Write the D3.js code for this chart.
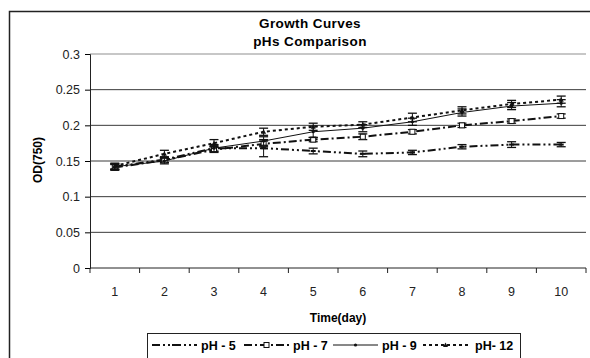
<!DOCTYPE html>
<html>
<head>
<meta charset="utf-8">
<script src="https://cdn.jsdelivr.net/npm/d3@7/dist/d3.min.js"></script>
<style>
  body { margin: 0; background: #fff; }
  svg { font-family: Arial, "Liberation Sans", sans-serif; }
</style>
</head>
<body>
<svg width="590" height="358"></svg>
<script>
const days = [1, 2, 3, 4, 5, 6, 7, 8, 9, 10];
const yTicks = [0, 0.05, 0.1, 0.15, 0.2, 0.25, 0.3];

const ph5 = [0.142, 0.152, 0.168, 0.168, 0.164, 0.160, 0.162, 0.170, 0.173, 0.173];
const ph7 = [0.141, 0.151, 0.166, 0.174, 0.180, 0.184, 0.191, 0.200, 0.206, 0.213];
const ph9 = [0.142, 0.150, 0.168, 0.178, 0.191, 0.196, 0.205, 0.218, 0.227, 0.231];
const ph12 = [0.143, 0.160, 0.175, 0.191, 0.198, 0.201, 0.211, 0.221, 0.230, 0.236];

const err5 = [0.004, 0.004, 0.004, 0.012, 0.004, 0.004, 0.003, 0.003, 0.004, 0.003];
const err7 = [0.004, 0.003, 0.004, 0.004, 0.003, 0.004, 0.003, 0.003, 0.003, 0.003];
const err9 = [0.004, 0.004, 0.005, 0.006, 0.008, 0.005, 0.005, 0.005, 0.005, 0.005];
const err12 = [0.004, 0.005, 0.005, 0.005, 0.005, 0.004, 0.006, 0.005, 0.005, 0.005];

const seriesNames = ['pH - 5', 'pH - 7', 'pH - 9', 'pH- 12'];

const series = [
  { name: seriesNames[0], values: ph5, errs: err5, dash: '8,3,2,3,2,3', width: 2, marker: 'dash' },
  { name: seriesNames[1], values: ph7, errs: err7, dash: '8,3,2,3', width: 2, marker: 'square' },
  { name: seriesNames[2], values: ph9, errs: err9, dash: null, width: 1, marker: 'dot' },
  { name: seriesNames[3], values: ph12, errs: err12, dash: '3,3', width: 2, marker: 'tri' }
];

const svg = d3.select('svg');

// outer chart frame (runs off the right/bottom edge)
svg.append('rect')
    .attr('x', 9.5).attr('y', 11.5)
    .attr('width', 620).attr('height', 400)
    .attr('fill', 'none').attr('stroke', '#222').attr('stroke-width', 1.5);

const x = d3.scaleLinear().domain([0.5, 10.5]).range([90, 586]);
const y = d3.scaleLinear().domain([0, 0.3]).range([268, 54]);

// gridlines
svg.append('g')
  .selectAll('line')
  .data(yTicks.filter(d => d > 0))
  .enter().append('line')
    .attr('x1', x(0.5)).attr('x2', x(10.5))
    .attr('y1', d => y(d)).attr('y2', d => y(d))
    .attr('stroke', d => d === 0.3 ? '#b4b4b4' : '#3a3a3a')
    .attr('stroke-width', d => d === 0.3 ? 1.5 : 1);

// y axis
const yAxis = svg.append('g')
    .attr('transform', `translate(${x(0.5)},0)`)
    .call(d3.axisLeft(y).tickValues(yTicks).tickSize(5).tickPadding(5)
      .tickFormat(d => d3.format('')(+d.toFixed(2))));
yAxis.select('.domain').attr('stroke', '#222');
yAxis.selectAll('text').attr('font-size', 12.5).attr('fill', '#222')
    .attr('font-family', 'Arial, "Liberation Sans", sans-serif');

// x axis: labels at categories, ticks at category boundaries
const xAxis = svg.append('g').attr('transform', `translate(0,${y(0)})`);
xAxis.append('line')
    .attr('x1', x(0.5)).attr('x2', x(10.5))
    .attr('stroke', '#222');
xAxis.selectAll('line.tick')
  .data(d3.range(0.5, 11, 1))
  .enter().append('line')
    .attr('class', 'tick')
    .attr('x1', d => x(d)).attr('x2', d => x(d))
    .attr('y1', 0).attr('y2', 5)
    .attr('stroke', '#222');
xAxis.selectAll('text')
  .data(days)
  .enter().append('text')
    .attr('x', d => x(d))
    .attr('y', 28)
    .attr('text-anchor', 'middle')
    .attr('font-size', 12.5)
    .attr('fill', '#222')
    .text(d => d);

// titles
svg.append('text')
    .attr('x', 310).attr('y', 28)
    .attr('text-anchor', 'middle')
    .attr('font-size', 13.5).attr('font-weight', 'bold')
    .attr('letter-spacing', 0.4)
    .text('Growth Curves');
svg.append('text')
    .attr('x', 310).attr('y', 46)
    .attr('text-anchor', 'middle')
    .attr('font-size', 13.5).attr('font-weight', 'bold')
    .attr('letter-spacing', 0.4)
    .text('pHs Comparison');
svg.append('text')
    .attr('x', 338).attr('y', 322)
    .attr('text-anchor', 'middle')
    .attr('font-size', 12).attr('font-weight', 'bold')
    .text('Time(day)');
svg.append('text')
    .attr('transform', 'translate(42,160) rotate(-90)')
    .attr('text-anchor', 'middle')
    .attr('font-size', 12).attr('font-weight', 'bold')
    .text('OD(750)');

function drawMarker(g, type, cx, cy) {
  if (type === 'square') {
    g.append('rect').attr('x', cx - 2.5).attr('y', cy - 2.5)
        .attr('width', 5).attr('height', 5)
        .attr('fill', '#fff').attr('stroke', '#111').attr('stroke-width', 1);
  } else if (type === 'dot') {
    g.append('circle').attr('cx', cx).attr('cy', cy).attr('r', 1.6).attr('fill', '#111');
  } else if (type === 'tri') {
    g.append('path')
        .attr('d', `M${cx},${cy - 2.5}L${cx + 2.5},${cy + 2}L${cx - 2.5},${cy + 2}Z`)
        .attr('fill', '#111');
  } else {
    g.append('line').attr('x1', cx - 2.5).attr('x2', cx + 2.5)
        .attr('y1', cy).attr('y2', cy)
        .attr('stroke', '#111').attr('stroke-width', 2);
  }
}

const line = d3.line()
    .x((d, i) => x(days[i]))
    .y(d => y(d));

const plot = svg.append('g');
series.forEach(s => {
  const g = plot.append('g');
  g.append('path')
      .attr('d', line(s.values))
      .attr('fill', 'none')
      .attr('stroke', '#111')
      .attr('stroke-width', s.width)
      .attr('stroke-dasharray', s.dash);
  s.values.forEach((v, i) => {
    const cx = x(days[i]);
    const e = s.errs[i];
    g.append('line')
        .attr('x1', cx).attr('x2', cx)
        .attr('y1', y(v - e)).attr('y2', y(v + e))
        .attr('stroke', '#111');
    [v - e, v + e].forEach(c => {
      g.append('line')
          .attr('x1', cx - 4.5).attr('x2', cx + 4.5)
          .attr('y1', y(c)).attr('y2', y(c))
          .attr('stroke', '#111').attr('stroke-width', 1.3);
    });
    drawMarker(g, s.marker, cx, y(v));
  });
});

// legend
const legend = svg.append('g');
legend.append('rect')
    .attr('x', 147.5).attr('y', 333.5)
    .attr('width', 373).attr('height', 40)
    .attr('fill', '#fff').attr('stroke', '#222');
const legendX = [152, 244, 333, 423];
series.forEach((s, i) => {
  const lx = legendX[i];
  const g = legend.append('g');
  g.append('line')
      .attr('x1', lx).attr('x2', lx + 45)
      .attr('y1', 345).attr('y2', 345)
      .attr('stroke', '#111')
      .attr('stroke-width', s.width)
      .attr('stroke-dasharray', s.dash);
  drawMarker(g, s.marker, lx + 22.5, 345);
  g.append('text')
      .attr('x', lx + 49 + (i === 3 ? 3 : 0))
      .attr('y', 349.5)
      .attr('font-size', 12.5).attr('font-weight', 'bold')
      .text(s.name);
});
</script>
</body>
</html>
